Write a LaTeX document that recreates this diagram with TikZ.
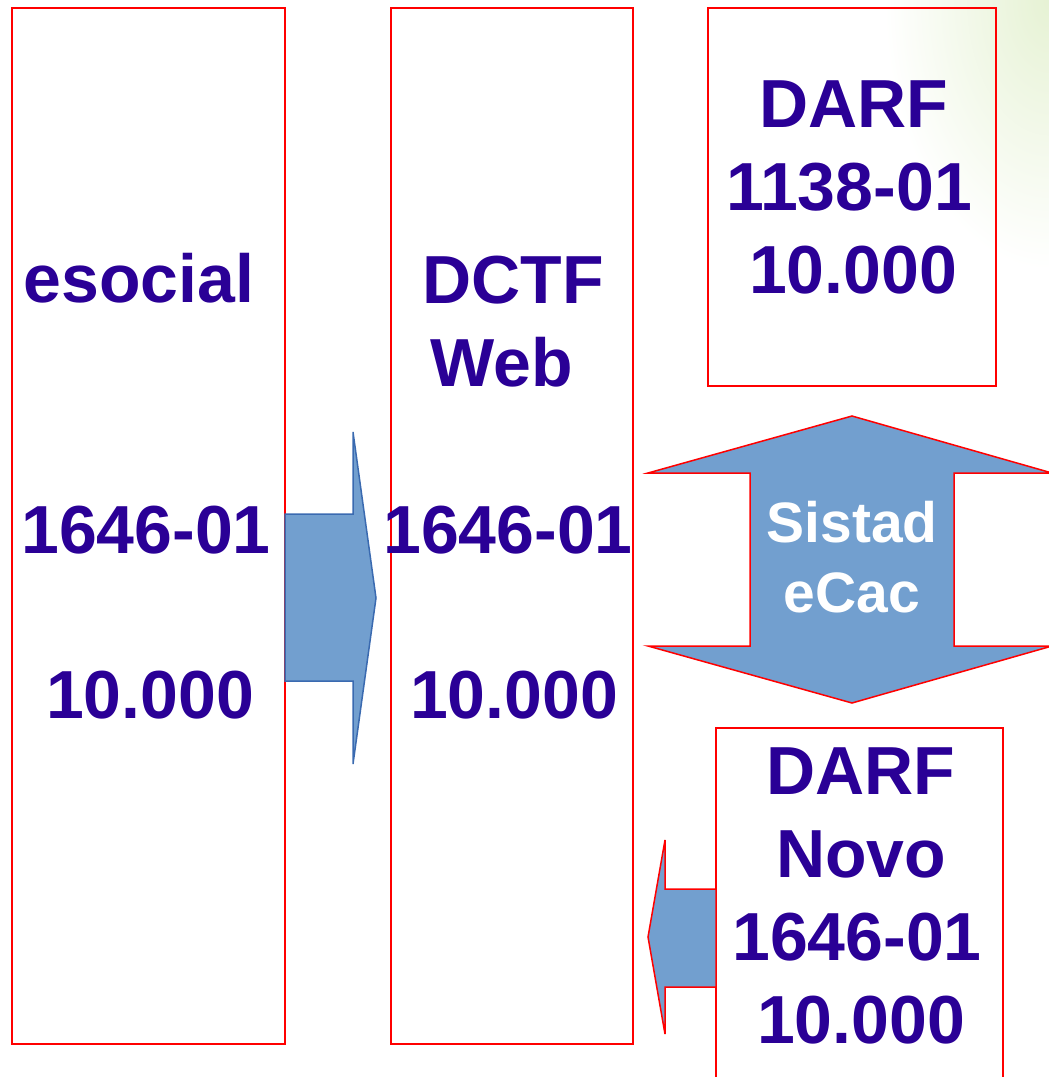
\documentclass[tikz,border=0pt]{standalone}
\usepackage{fontspec}
\setmainfont{Liberation Sans}
\definecolor{txtpurple}{RGB}{42,0,150}
\definecolor{arrowblue}{RGB}{114,159,207}
\definecolor{arrowedge}{RGB}{58,106,176}
\definecolor{boxred}{RGB}{255,0,0}
\definecolor{palegreen}{RGB}{230,242,212}
\begin{document}
\begin{tikzpicture}[x=1pt,y=-1pt,
  panel/.style={draw=boxred,line width=1.5pt},
  label/.style={anchor=base,inner sep=0pt,text=txtpurple,font=\fontsize{68}{80}\selectfont\bfseries},
  wlabel/.style={anchor=base,inner sep=0pt,text=white,font=\fontsize{57}{68}\selectfont\bfseries},
  bluearrow/.style={fill=arrowblue,draw=arrowedge,line width=1.5pt,line join=miter},
  redarrow/.style={fill=arrowblue,draw=boxred,line width=1.5pt,line join=miter}]
\useasboundingbox (0,0) rectangle (1049,1077);
\clip (0,0) rectangle (1049,1077);
% faint green background glow, top right
\shade[inner color=palegreen,outer color=white] (1049,0) ellipse (165 and 270);
% boxes
\draw[panel] (12,8) rectangle (285,1044);
\draw[panel] (391,8) rectangle (633,1044);
\draw[panel] (708,8) rectangle (996,386);
\draw[panel] (716,728) rectangle (1003,1095);
% arrow esocial -> DCTF
\coordinate (r1) at (285,514);
\coordinate (r2) at (353,514);
\coordinate (r3) at (353,432);
\coordinate (rt) at (376,598);
\coordinate (r4) at (353,764);
\coordinate (r5) at (353,681);
\coordinate (r6) at (285,681);
\draw[bluearrow] (r1) -- (r2) -- (r3) -- (rt) -- (r4) -- (r5) -- (r6) -- cycle;
% up-down arrow
\coordinate (ut) at (852,416);
\coordinate (ub) at (852,703);
\draw[redarrow] (ut) -- (1052,473) -- (954,473) -- (954,646) -- (1052,646) -- (ub)
  -- (648,646) -- (750,646) -- (750,473) -- (648,473) -- cycle;
% arrow DARF Novo -> DCTF
\coordinate (l1) at (716,889);
\coordinate (l2) at (665,889);
\coordinate (l3) at (665,840);
\coordinate (lt) at (648,937);
\coordinate (l4) at (665,1034);
\coordinate (l5) at (665,987);
\coordinate (l6) at (716,987);
\draw[redarrow] (l1) -- (l2) -- (l3) -- (lt) -- (l4) -- (l5) -- (l6) -- cycle;
% texts box 1
\node[label] (e1) at (139,302) {esocial};
\node[label] (e2) at (146,553) {1646-01};
\node[label] (e3) at (150,718) {10.000};
% texts box 2
\node[label] (d1) at (513,303) {DCTF};
\node[label] (d2) at (502,386) {Web};
\node[label] (d3) at (508,553) {1646-01};
\node[label] (d4) at (514,718) {10.000};
% texts box 3
\node[label] (a1) at (854,127) {DARF};
\node[label] (a2) at (849,210) {1138-01};
\node[label] (a3) at (853,293) {10.000};
% texts box 4
\node[label] (n1) at (861,794) {DARF};
\node[label] (n2) at (861,877) {Novo};
\node[label] (n3) at (857,960) {1646-01};
\node[label] (n4) at (861,1043) {10.000};
% arrow text
\node[wlabel] (s1) at (852,542) {Sistad};
\node[wlabel] (s2) at (852,612) {eCac};
\end{tikzpicture}
\end{document}
